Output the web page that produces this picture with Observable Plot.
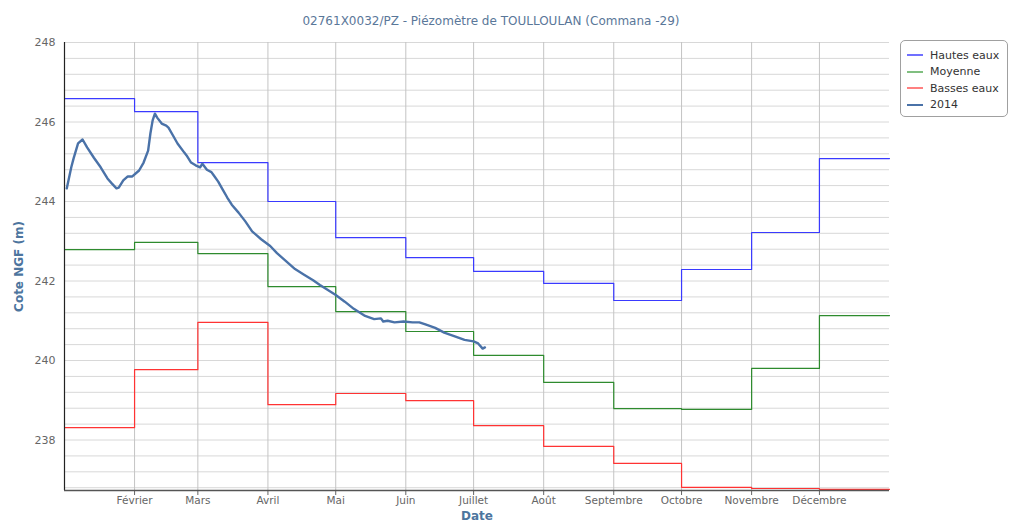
<!DOCTYPE html>
<html>
<head>
<meta charset="utf-8">
<script src="https://cdn.jsdelivr.net/npm/d3@7"></script>
<script src="https://cdn.jsdelivr.net/npm/@observablehq/plot@0.6"></script>
<style>
  html, body { margin: 0; padding: 0; background: #fff; }
  #wrap { position: relative; width: 1011px; height: 523px; font-family: "DejaVu Sans", sans-serif; }
  #legend { position: absolute; left: 900px; top: 40px; width: 108px; height: 77px; border: 1px solid #a0a0a0; border-radius: 5px; background: #fff; box-sizing: border-box; padding: 6px 0 0 6px; }
  .item { display: flex; align-items: center; height: 16.5px; font-size: 11px; color: #333; white-space: nowrap; }
  .sym { width: 16px; height: 2px; margin-right: 7px; flex: none; }
</style>
</head>
<body>
<div id="wrap"><div id="chart"></div><div id="legend"></div></div>
<script>
const title = "02761X0032/PZ - Piézomètre de TOULLOULAN (Commana -29)";
const monthLabels = ["Février","Mars","Avril","Mai","Juin","Juillet","Août","Septembre","Octobre","Novembre","Décembre"];
const seriesNames = ["Hautes eaux","Moyenne","Basses eaux","2014"];
const seriesColors = ["#3a3aff","#2e8b2e","#ff3333","#4a72a8"];
const legendColors = ["#7070ff","#80bf80","#ff8080","#4a72a8"];

// monthly reference values (Jan..Dec)
const hautes  = [246.59,246.26,244.98,244.00,243.09,242.59,242.24,241.94,241.51,242.29,243.22,245.08];
const moyenne = [242.79,242.97,242.69,241.86,241.23,240.73,240.13,239.45,238.79,238.77,239.80,241.13];
const basses  = [238.31,239.77,240.96,238.89,239.17,238.99,238.36,237.84,237.41,236.81,236.78,236.76];

const obsDates = ["2014-01-02","2014-01-04","2014-01-05","2014-01-07","2014-01-09","2014-01-11","2014-01-14","2014-01-17","2014-01-20","2014-01-22","2014-01-24","2014-01-25","2014-01-27","2014-01-29","2014-01-31","2014-02-03","2014-02-05","2014-02-07","2014-02-08","2014-02-09","2014-02-10","2014-02-11","2014-02-13","2014-02-15","2014-02-16","2014-02-18","2014-02-20","2014-02-23","2014-02-24","2014-02-26","2014-02-28","2014-03-02","2014-03-03","2014-03-05","2014-03-07","2014-03-08","2014-03-10","2014-03-12","2014-03-14","2014-03-16","2014-03-19","2014-03-22","2014-03-25","2014-03-29","2014-04-02","2014-04-05","2014-04-09","2014-04-13","2014-04-17","2014-04-21","2014-04-24","2014-04-27","2014-05-01","2014-05-05","2014-05-09","2014-05-14","2014-05-18","2014-05-21","2014-05-22","2014-05-24","2014-05-27","2014-05-31","2014-06-04","2014-06-07","2014-06-10","2014-06-14","2014-06-18","2014-06-23","2014-06-27","2014-07-01","2014-07-03","2014-07-05","2014-07-06"];
const obsValues = [244.33,244.86,245.08,245.46,245.56,245.36,245.10,244.86,244.58,244.45,244.33,244.35,244.53,244.63,244.63,244.78,244.98,245.28,245.71,246.04,246.21,246.11,245.96,245.91,245.86,245.66,245.46,245.23,245.16,244.98,244.91,244.86,244.95,244.80,244.74,244.66,244.50,244.30,244.10,243.92,243.72,243.50,243.25,243.05,242.88,242.70,242.50,242.30,242.16,242.02,241.90,241.79,241.65,241.48,241.30,241.12,241.04,241.06,240.98,241.00,240.96,240.98,240.96,240.96,240.90,240.82,240.70,240.60,240.52,240.48,240.43,240.30,240.33];

const yDomain = [236.73, 248];
const xStart = new Date(Date.UTC(2014, 0, 1));
const xEnd = new Date(Date.UTC(2015, 0, 1));
const monthTicks = d3.range(1, 12).map(m => new Date(Date.UTC(2014, m, 1)));
const labelByTime = new Map(monthTicks.map((d, i) => [+d, monthLabels[i]]));

function steps(values, name) {
  const rows = values.map((v, i) => ({date: new Date(Date.UTC(2014, i, 1)), value: v, series: name}));
  rows.push({date: xEnd, value: values[values.length - 1], series: name});
  return rows;
}
const stepData = [steps(hautes, seriesNames[0]), steps(moyenne, seriesNames[1]), steps(basses, seriesNames[2])];
const obs = obsDates.map((d, i) => ({date: new Date(d + "T00:00:00Z"), value: obsValues[i]}));

const chart = Plot.plot({
  width: 1011,
  height: 523,
  marginTop: 42,
  marginBottom: 33,
  marginLeft: 64,
  marginRight: 122,
  style: {fontFamily: "DejaVu Sans, sans-serif", background: "#fff", overflow: "visible"},
  x: {type: "utc", domain: [xStart, xEnd]},
  y: {domain: yDomain},
  marks: [
    Plot.gridY({interval: 0.4, stroke: "#d8d8d8", strokeOpacity: 1, strokeWidth: 1}),
    Plot.gridX({ticks: monthTicks, stroke: "#c4c4c4", strokeOpacity: 1, strokeWidth: 1}),
    Plot.axisY({ticks: d3.range(238, 248.1, 2), tickSize: 0, tickPadding: 9, fontSize: 11, color: "#666",
      label: "Cote NGF (m)", labelAnchor: "center", labelOffset: 50, labelArrow: "none"}),
    Plot.axisX({ticks: monthTicks, tickSize: 5, tickPadding: 1, fontSize: 10.5, color: "#666",
      tickFormat: d => labelByTime.get(+d), label: "Date", labelAnchor: "center", labelOffset: 29, labelArrow: "none"}),
    ...stepData.map((rows, i) => Plot.line(rows, {x: "date", y: "value", curve: "step-after", stroke: seriesColors[i], strokeWidth: 1.2})),
    Plot.line(obs, {x: "date", y: "value", stroke: seriesColors[3], strokeWidth: 2.4, curve: "linear"}),
    Plot.ruleX([xStart], {stroke: "#222", strokeWidth: 1.2}),
    Plot.ruleY([yDomain[0]], {stroke: "#555", strokeWidth: 1.5}),
    Plot.text([title], {frameAnchor: "top", dy: -26, dx: 14, fontSize: 12, fill: "#5a7799"})
  ]
});
document.getElementById("chart").appendChild(chart);

// style axis labels
chart.querySelectorAll("[aria-label='y-axis label'] text, [aria-label='x-axis label'] text").forEach(t => {
  t.setAttribute("fill", "#4d759e");
  t.style.fontWeight = "bold";
  t.style.fontSize = "12px";
});

const legend = document.getElementById("legend");
seriesNames.forEach((name, i) => {
  const row = document.createElement("div");
  row.className = "item";
  const sym = document.createElement("span");
  sym.className = "sym";
  sym.style.background = legendColors[i];
  row.appendChild(sym);
  row.appendChild(document.createTextNode(name));
  legend.appendChild(row);
});
</script>
</body>
</html>
